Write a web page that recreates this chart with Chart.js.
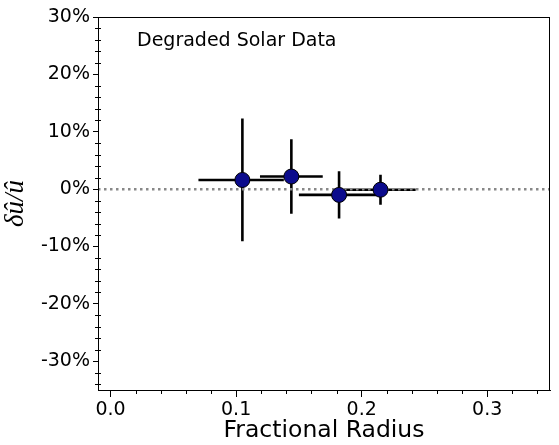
<!DOCTYPE html>
<html>
<head>
<meta charset="utf-8">
<script src="https://cdn.jsdelivr.net/npm/chart.js@4.4.0/dist/chart.umd.min.js"></script>
<style>
  html, body { margin: 0; padding: 0; background: #ffffff; }
  #wrap { width: 559px; height: 445px; position: relative; }
</style>
</head>
<body>
<div id="wrap"><canvas id="chart"></canvas></div>
<script>
// data
var radius = [0.105, 0.144, 0.182, 0.215];
var deviation = [1.6, 2.2, -1.0, -0.1];
var deviation_err = [10.7, 6.5, 4.1, 2.6];
var radius_lo = [0.070, 0.119, 0.150, 0.186];
var radius_hi = [0.138, 0.169, 0.215, 0.243];
var x_ticks = [0.0, 0.1, 0.2, 0.3];
var y_ticks = [-30, -20, -10, 0, 10, 20, 30];
var zero_line_x = [-0.01, 0.35];
var zero_line_y = [0, 0];
var annotation_text = 'Degraded Solar Data';

var font_family = "'DejaVu Sans', sans-serif";

var points = radius.map(function (r, i) { return {x: r, y: deviation[i]}; });
var zero_points = zero_line_x.map(function (x, i) { return {x: x, y: zero_line_y[i]}; });

// error bars, minor ticks, frame and label
var extras_plugin = {
    id: 'extras',
    beforeDatasetsDraw: function (chart) {
        var ctx = chart.ctx;
        var xs = chart.scales.x, ys = chart.scales.y;
        ctx.save();
        ctx.strokeStyle = '#000000';
        ctx.lineWidth = 2.6;
        ctx.lineCap = 'butt';
        for (var i = 0; i < radius.length; i++) {
            var px = xs.getPixelForValue(radius[i]);
            var py = ys.getPixelForValue(deviation[i]);
            ctx.beginPath();
            ctx.moveTo(xs.getPixelForValue(radius_lo[i]), py);
            ctx.lineTo(xs.getPixelForValue(radius_hi[i]), py);
            ctx.moveTo(px, ys.getPixelForValue(deviation[i] - deviation_err[i]));
            ctx.lineTo(px, ys.getPixelForValue(deviation[i] + deviation_err[i]));
            ctx.stroke();
        }
        ctx.restore();
    },
    afterDraw: function (chart) {
        var ctx = chart.ctx;
        var area = chart.chartArea;
        var xs = chart.scales.x, ys = chart.scales.y;
        ctx.save();
        ctx.strokeStyle = '#000000';
        ctx.lineWidth = 1;
        ctx.strokeRect(area.left + 0.5, area.top + 0.5, area.right - area.left - 1, area.bottom - area.top);
        ctx.beginPath();
        // y minor ticks every 2%
        for (var v = -34; v <= 30; v += 2) {
            if (v % 10 === 0) continue;
            var py = Math.round(ys.getPixelForValue(v)) + 0.5;
            ctx.moveTo(area.left - 3, py);
            ctx.lineTo(area.left + 3, py);
        }
        // x minor ticks every 0.02
        for (var k = 0; k <= 17; k++) {
            if (k % 5 === 0) continue;
            var px = Math.round(xs.getPixelForValue(k * 0.02)) + 0.5;
            ctx.moveTo(px, area.bottom);
            ctx.lineTo(px, area.bottom + 4);
        }
        ctx.stroke();
        ctx.fillStyle = '#000000';
        ctx.font = '19px ' + font_family;
        ctx.textBaseline = 'middle';
        ctx.textAlign = 'left';
        ctx.fillText(annotation_text, 137, 41);
        ctx.restore();
    }
};

new Chart(document.getElementById('chart').getContext('2d'), {
    type: 'scatter',
    data: {
        datasets: [
            {
                data: points,
                backgroundColor: '#0b0b8c',
                borderColor: '#000000',
                borderWidth: 1,
                pointRadius: 7.5,
                pointHoverRadius: 7.5,
                order: 0
            },
            {
                type: 'line',
                data: zero_points,
                borderColor: '#888888',
                borderWidth: 2.5,
                borderDash: [2.5, 3.5],
                pointRadius: 0,
                fill: false,
                order: 1
            }
        ]
    },
    options: {
        responsive: true,
        maintainAspectRatio: false,
        animation: false,
        layout: { padding: { top: 17, right: 9, left: 0, bottom: 0 } },
        plugins: {
            legend: { display: false },
            tooltip: { enabled: false }
        },
        scales: {
            x: {
                type: 'linear',
                min: -0.01,
                max: 0.35,
                afterBuildTicks: function (scale) {
                    scale.ticks = x_ticks.map(function (v) { return {value: v}; });
                },
                afterFit: function (scale) { scale.height = 55; },
                grid: { drawOnChartArea: false, drawTicks: true, tickLength: 7, color: '#000000' },
                border: { display: true, color: '#000000' },
                ticks: {
                    color: '#000000',
                    font: { family: font_family, size: 19 },
                    padding: 2,
                    maxRotation: 0,
                    callback: function (v) { return v.toFixed(1); }
                },
                title: {
                    display: true,
                    text: 'Fractional Radius',
                    color: '#000000',
                    font: { family: font_family, size: 23.5 },
                    padding: { top: -6, bottom: 0 }
                }
            },
            y: {
                type: 'linear',
                min: -35,
                max: 30,
                afterBuildTicks: function (scale) {
                    scale.ticks = y_ticks.map(function (v) { return {value: v}; });
                },
                afterFit: function (scale) { scale.width = 98; },
                grid: { drawOnChartArea: false, drawTicks: true, tickLength: 5, color: '#000000' },
                border: { display: true, color: '#000000' },
                ticks: {
                    color: '#000000',
                    font: { family: font_family, size: 19 },
                    padding: 3,
                    callback: function (v) { return v + '%'; }
                },
                title: {
                    display: true,
                    text: 'δû/û',
                    color: '#000000',
                    font: { family: "'Liberation Serif', serif", size: 27, style: 'italic' },
                    padding: { top: 0, bottom: 0 }
                }
            }
        }
    },
    plugins: [extras_plugin]
});
</script>
</body>
</html>
